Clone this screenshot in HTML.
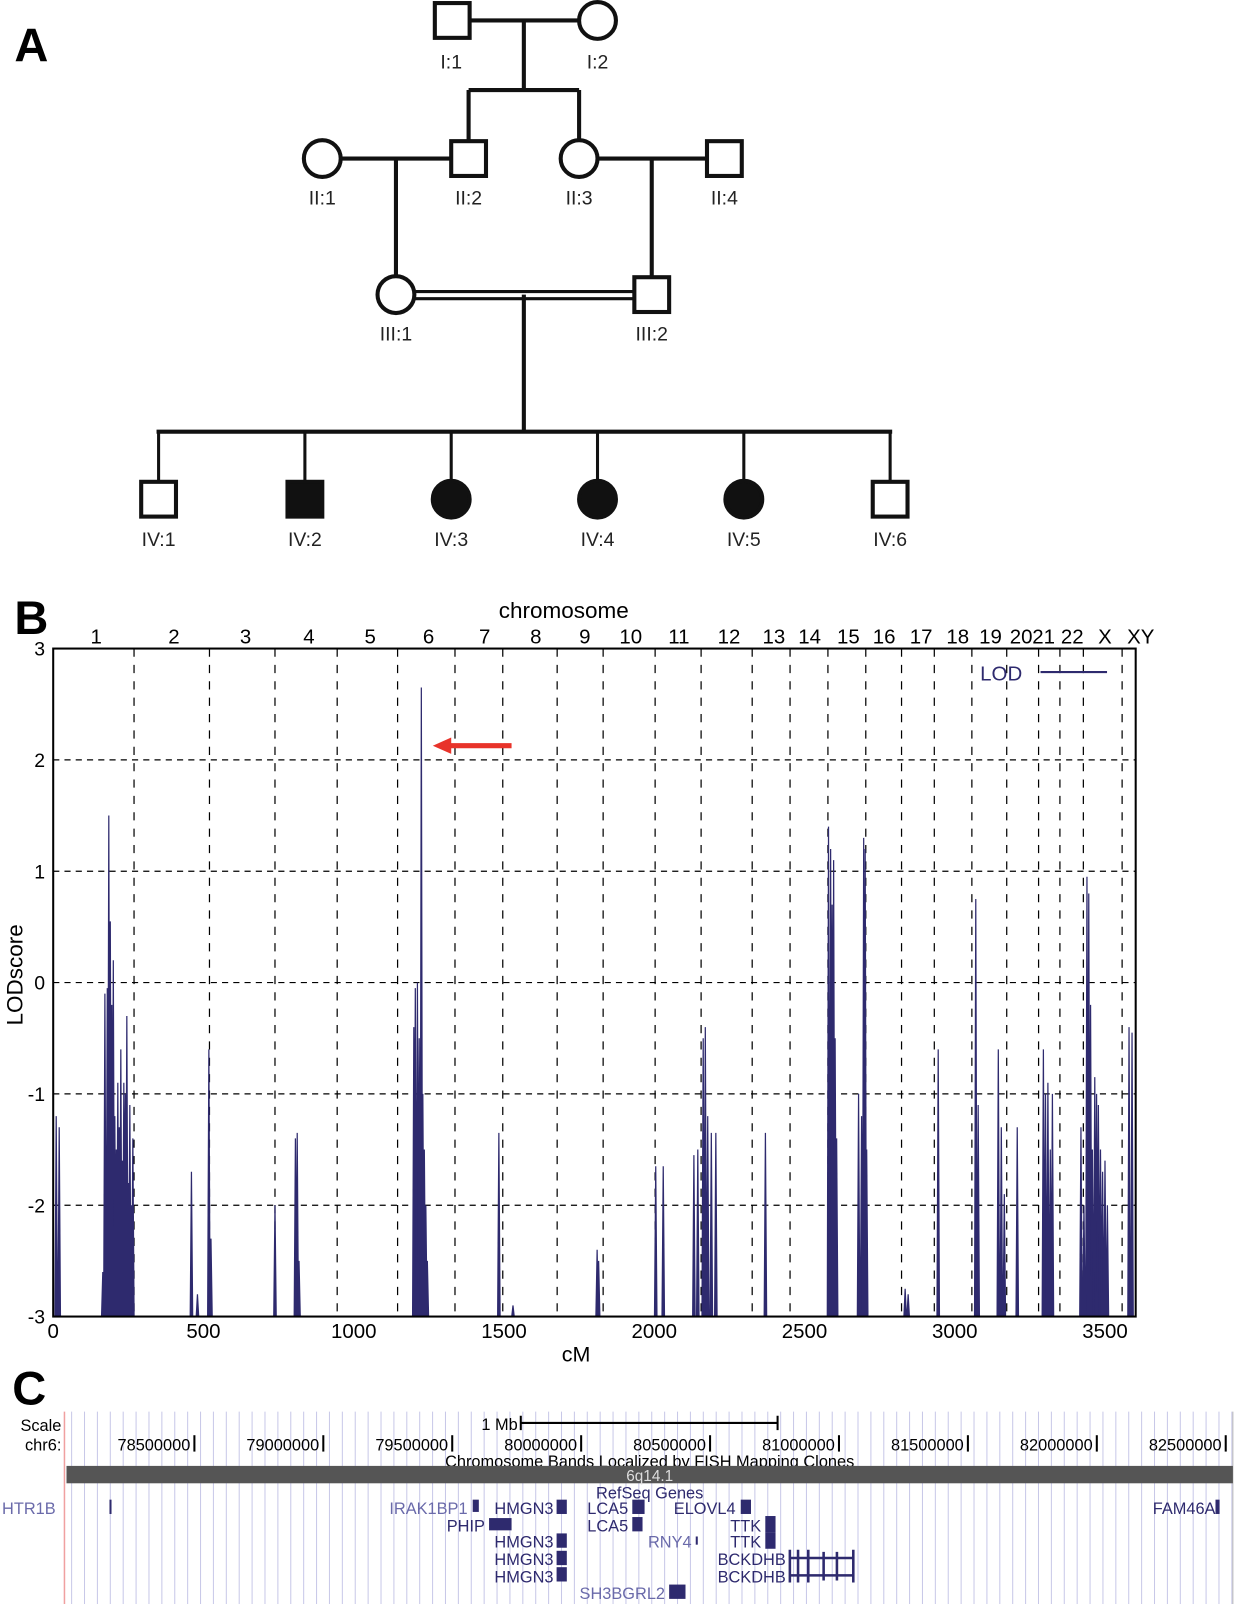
<!DOCTYPE html>
<html><head><meta charset="utf-8"><style>
html,body{margin:0;padding:0;background:#fff}
svg{display:block}
text{font-family:"Liberation Sans",Arial,sans-serif}
</style></head><body>
<svg id="fig" width="1238" height="1604" viewBox="0 0 1210 1568" preserveAspectRatio="none" xmlns="http://www.w3.org/2000/svg">
<g id="pedigree" stroke="#111" stroke-width="4" fill="none">
<text x="14" y="60" font-size="46" font-weight="bold" fill="#000" stroke="none">A</text>
<line x1="460" y1="20" x2="566" y2="20"/><line x1="512" y1="20" x2="512" y2="88"/>
<line x1="458" y1="88" x2="566" y2="88"/><line x1="458" y1="88" x2="458" y2="137"/><line x1="566" y1="88" x2="566" y2="137"/>
<line x1="333" y1="155" x2="440" y2="155"/><line x1="584" y1="155" x2="690" y2="155"/>
<line x1="387" y1="155" x2="387" y2="270"/><line x1="637" y1="155" x2="637" y2="270"/>
<line x1="405" y1="285" x2="619" y2="285" stroke-width="3"/><line x1="405" y1="292" x2="619" y2="292" stroke-width="3"/>
<line x1="512" y1="288" x2="512" y2="422"/><line x1="153" y1="422" x2="872" y2="422"/>
<g stroke-width="3"><line x1="155" y1="422" x2="155" y2="470"/><line x1="298" y1="422" x2="298" y2="470"/><line x1="441" y1="422" x2="441" y2="470"/><line x1="584" y1="422" x2="584" y2="470"/><line x1="727" y1="422" x2="727" y2="470"/><line x1="870" y1="422" x2="870" y2="470"/></g>
<rect x="425" y="3" width="34" height="34"/>
<circle cx="584" cy="20" r="18"/>
<circle cx="315" cy="155" r="18"/>
<rect x="441" y="138" width="34" height="34"/>
<circle cx="566" cy="155" r="18"/>
<rect x="691" y="138" width="34" height="34"/>
<circle cx="387" cy="288" r="18"/>
<rect x="620" y="271" width="34" height="34"/>
<rect x="138" y="471" width="34" height="34"/>
<rect x="281" y="471" width="34" height="34" fill="#111"/>
<circle cx="441" cy="488" r="18" fill="#111"/>
<circle cx="584" cy="488" r="18" fill="#111"/>
<circle cx="727" cy="488" r="18" fill="#111"/>
<rect x="853" y="471" width="34" height="34"/>
<g fill="#222" stroke="none" font-size="19" text-anchor="middle">
<text x="441" y="67">I:1</text><text x="584" y="67">I:2</text>
<text x="315" y="200">II:1</text><text x="458" y="200">II:2</text><text x="566" y="200">II:3</text><text x="708" y="200">II:4</text>
<text x="387" y="333">III:1</text><text x="637" y="333">III:2</text>
<text x="155" y="534">IV:1</text><text x="298" y="534">IV:2</text><text x="441" y="534">IV:3</text><text x="584" y="534">IV:4</text><text x="727" y="534">IV:5</text><text x="870" y="534">IV:6</text>
</g>
</g>
<g id="chart"></g>
<g id="track"></g>
</svg>
<script>
// ---- Panel B data ----
const chromLabels = ["1","2","3","4","5","6","7","8","9","10","11","12","13","14","15","16","17","18","19","20","21","22","X","XY"];
const chromLabelCM = [143,402,640,851,1055,1249,1436,1606,1769,1922,2082,2249,2398,2517,2646,2765,2888,3010,3119,3221,3296,3391,3500,3619];
const chromBoundsCM = [269,520,738,945,1146,1337,1496,1677,1830,2003,2156,2326,2452,2578,2704,2823,2932,3057,3173,3279,3350,3428,3557];
const xTicks = [0,500,1000,1500,2000,2500,3000,3500];
const yTicks = [-3,-2,-1,0,1,2,3];
const lodPos = [10,20,165,172,180,185,190,195,200,205,210,215,220,225,230,235,240,245,250,255,260,265,
 460,480,518,525,738,806,812,818,1200,1205,1212,1218,1225,1230,1235,1240,1245,1483,1530,1810,1815,
 2005,2030,2132,2145,2163,2170,2178,2190,2205,2370,2580,2587,2592,2597,2602,2607,2680,2690,2697,2702,2707,
 2835,2845,2945,3070,3078,3145,3155,3165,3208,3295,3302,3310,3318,3325,
 3420,3430,3440,3446,3452,3458,3466,3472,3478,3485,3492,3500,3508,3580,3590];
const lodVal = [-1.2,-1.3,-2.6,-0.1,-0.05,1.5,0.55,-0.2,0.2,-1.2,-1.5,-0.9,-1.3,-0.6,-1.6,-0.9,-1.0,-0.3,-1.8,-1.1,-2.0,-1.4,
 -1.7,-2.8,-0.6,-2.3,-2.0,-1.4,-1.35,-2.5,-0.4,-0.05,0,-0.5,2.65,-1.0,-1.5,-2.0,-2.5,-1.35,-2.9,-2.4,-2.5,
 -1.65,-1.65,-1.55,-1.5,-0.5,-0.4,-1.2,-1.35,-1.35,-1.35,1.4,1.2,0.7,1.1,-0.5,-1.4,-1.0,-1.2,1.3,1.2,-1.5,
 -2.75,-2.8,-0.6,0.75,-1.1,-0.6,-1.3,-1.9,-1.3,-0.6,-1.0,-0.9,-1.5,-1.0,
 -1.3,-2.0,0.95,0.8,-0.2,-1.5,-0.85,-1.0,-1.1,-1.5,-1.7,-1.6,-2.0,-0.4,-0.45];

const NS="http://www.w3.org/2000/svg";
function mk(tag,attrs,parent,txt){const e=document.createElementNS(NS,tag);for(const k in attrs)e.setAttribute(k,attrs[k]);if(txt!==undefined)e.textContent=txt;parent.appendChild(e);return e;}
const X0=52,X1=1110,Y0=1287,Y1=634;
const sx=v=>X0+v*(1080-52)/3500;
const sy=v=>Y0+(v+3)*(Y1-Y0)/6;
const g=document.getElementById('chart');
let e=mk('text',{x:14,y:620,'font-size':46,'font-weight':'bold'},g,'B');


// grid
yTicks.forEach(t=>{
 if(t>-3&&t<3){const l=mk('line',{x1:X0,x2:X1,y1:sy(t),y2:sy(t),stroke:'#000','stroke-width':1.2,'stroke-dasharray':'6,5'},g);
 
 }
 const tx=mk('text',{x:X0-8,y:sy(t)+7,'font-size':19,'text-anchor':'end'},g,String(t));
 
 
});
chromBoundsCM.forEach(c=>{
 const l=mk('line',{x1:sx(c),x2:sx(c),y1:Y1,y2:Y0,stroke:'#000','stroke-width':1.2,'stroke-dasharray':'8,8'},g);
 
 
});
chromLabels.forEach((c,i)=>{
 const t=mk('text',{x:sx(chromLabelCM[i]),y:629,'font-size':20,'text-anchor':'middle'},g,c);
 
 
});
xTicks.forEach(v=>{
 const t=mk('text',{x:sx(v),y:1308,'font-size':20,'text-anchor':'middle'},g,String(v));
 
 
});
e=mk('text',{x:551,y:604,'font-size':22,'text-anchor':'middle'},g,'chromosome');


e=mk('text',{x:563,y:1331,'font-size':21,'text-anchor':'middle'},g,'cM');


e=mk('text',{x:0,y:0,'font-size':22,'text-anchor':'middle',transform:'translate(22,953) rotate(-90)'},g,'LODscore');


// series
let d='';
lodPos.forEach((p,i)=>{d+=`M${sx(p)-1.2},${sy(-3)}L${sx(p)},${sy(lodVal[i])}L${sx(p)+1.2},${sy(-3)}Z`;});
e=mk('path',{d:d,fill:'#2e2a6e',stroke:'#2e2a6e','stroke-width':1.2},g);


// frame
e=mk('rect',{x:X0,y:Y1,width:X1-X0,height:Y0-Y1,fill:'none',stroke:'#000','stroke-width':2},g);


// legend
e=mk('text',{x:958,y:665,'font-size':20,fill:'#2e2a6e'},g,'LOD');


e=mk('line',{x1:1017,x2:1082,y1:657,y2:657,stroke:'#2e2a6e','stroke-width':2},g);


// arrow
e=mk('line',{x1:500,x2:438,y1:729,y2:729,stroke:'#e8332a','stroke-width':5},g);


mk('polygon',{points:'423,729 441,721 441,737',fill:'#e8332a'},g);

// ---- Panel C ----
const t=document.getElementById('track');
e=mk('text',{x:12,y:1373,'font-size':46,'font-weight':'bold'},t,'C');


for(let x=70;x<1205;x+=12.6){mk('line',{x1:x,x2:x,y1:1380,y2:1568,stroke:'#c8c8e8','stroke-width':1},t);}
mk('line',{x1:63,x2:63,y1:1380,y2:1568,stroke:'#f0a0a0','stroke-width':1.5},t);
mk('line',{x1:1205,x2:1205,y1:1380,y2:1568,stroke:'#bbb','stroke-width':1},t);
mk('text',{x:60,y:1399,'font-size':16,'text-anchor':'end'},t,'Scale');
mk('text',{x:60,y:1418,'font-size':16,'text-anchor':'end'},t,'chr6:');
mk('text',{x:506,y:1398,'font-size':16,'text-anchor':'end'},t,'1 Mb');
mk('path',{d:'M509,1384V1398M509,1391H760M760,1384V1398',stroke:'#000','stroke-width':2,fill:'none'},t);
const coords=["78500000","79000000","79500000","80000000","80500000","81000000","81500000","82000000","82500000"];
coords.forEach((c,i)=>{const x=190+i*126;mk('text',{x:x-4,y:1418,'font-size':16,'text-anchor':'end'},t,c);mk('line',{x1:x,x2:x,y1:1403,y2:1419,stroke:'#000','stroke-width':2},t);});
mk('text',{x:635,y:1434,'font-size':16,'text-anchor':'middle'},t,'Chromosome Bands Localized by FISH Mapping Clones');
e=mk('rect',{x:65,y:1433,width:1140,height:17,fill:'#555'},t);


mk('text',{x:635,y:1448,'font-size':15,'text-anchor':'middle',fill:'#ddd'},t,'6q14.1');
mk('text',{x:635,y:1465,'font-size':16,'text-anchor':'middle',fill:'#2e2a6e'},t,'RefSeq Genes');
const genes=[["HTR1B",2,1480,'#6a6aaa','start'],["IRAK1BP1",457,1480,'#6a6aaa','end'],["HMGN3",541,1480,'#2e2a6e','end'],["LCA5",614,1480,'#2e2a6e','end'],["ELOVL4",719,1480,'#2e2a6e','end'],["FAM46A",1188,1480,'#2e2a6e','end'],
["PHIP",474,1497,'#2e2a6e','end'],["LCA5",614,1497,'#2e2a6e','end'],["TTK",744,1497,'#2e2a6e','end'],
["HMGN3",541,1513,'#2e2a6e','end'],["RNY4",676,1513,'#6a6aaa','end'],["TTK",744,1513,'#2e2a6e','end'],
["HMGN3",541,1530,'#2e2a6e','end'],["BCKDHB",768,1530,'#2e2a6e','end'],
["HMGN3",541,1547,'#2e2a6e','end'],["BCKDHB",768,1547,'#2e2a6e','end'],["SH3BGRL2",650,1563,'#6a6aaa','end']];
genes.forEach(gn=>{const el=mk('text',{x:gn[1],y:gn[2],'font-size':16,'text-anchor':gn[4],fill:gn[3]},t,gn[0]);
 
 });
const blocks=[[107,1466,2,14],[462,1466,6,12],[544,1466,10,14],[618,1466,12,14],[724,1466,10,14],[1188,1466,4,14],
[478,1484,22,12],[618,1483,10,14],[748,1482,10,16],[680,1502,2,8],[748,1498,10,16],[544,1499,10,14],[544,1516,10,14],[544,1532,10,14],[654,1549,16,14]];
blocks.forEach(b=>mk('rect',{x:b[0],y:b[1],width:b[2],height:b[3],fill:'#2e2a6e'},t));
mk('path',{d:'M772,1523H834M772,1540H834M772,1515V1547M780,1515V1547M790,1515V1547M805,1517V1545M818,1517V1545M834,1515V1547',stroke:'#2e2a6e','stroke-width':2.5,fill:'none'},t);
</script>
</body></html>
